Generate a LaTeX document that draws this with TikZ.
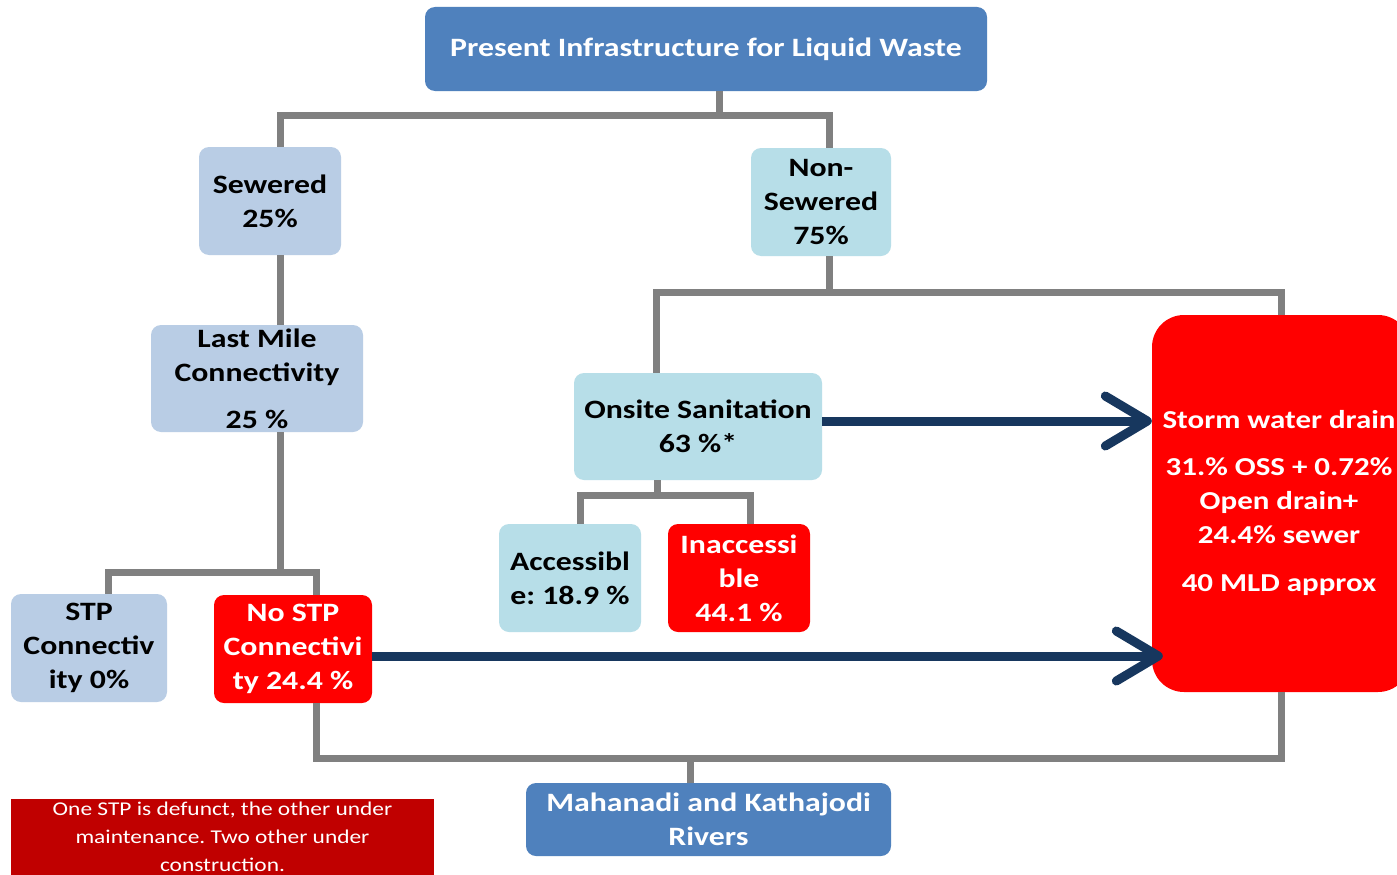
\documentclass[tikz,border=0pt]{standalone}
\usepackage{fontspec}
\setmainfont{Carlito}[FakeStretch=1.2]
\frenchspacing
\usetikzlibrary{arrows.meta}
\definecolor{hdblue}{HTML}{4F81BD}
\definecolor{lblue}{HTML}{B9CDE5}
\definecolor{lcyan}{HTML}{B7DEE8}
\definecolor{bred}{HTML}{FF0000}
\definecolor{dred}{HTML}{C00000}
\definecolor{conngray}{HTML}{808080}
\definecolor{navy}{HTML}{17375E}
\tikzset{
  box/.style={rectangle, rounded corners=10pt, inner sep=0pt, align=center,
    font=\frenchspacing\bfseries\fontsize{26.5}{34}\selectfont},
  bluebox/.style={box, fill=lblue, text=black},
  cyanbox/.style={box, fill=lcyan, text=black},
  redbox/.style={box, fill=bred, text=white},
  headbox/.style={box, fill=hdblue, text=white},
  conn/.style={draw=conngray, line width=7pt},
  arr/.style={draw=navy, line width=9pt,
    -{Straight Barb[length=42pt, width=50pt, line cap=round, round]}},
}
\begin{document}
\begin{tikzpicture}[x=1pt, y=-1pt]
\clip (0,0) rectangle (1397,875);
\fill[white] (0,0) rectangle (1397,875);

% nodes
\node[headbox, minimum width=562pt, minimum height=84pt] (top) at (706,49)
  {Present Infrastructure for Liquid Waste};
\node[bluebox, minimum width=142pt, minimum height=108pt] (sew) at (270,201)
  {Sewered\\25\%};
\node[cyanbox, minimum width=140pt, minimum height=108pt] (non) at (821,202)
  {Non-\\Sewered\\75\%};
\node[bluebox, minimum width=212pt, minimum height=107pt] (lm) at (257,378.5)
  {Last Mile\\Connectivity\\[13pt]25 \%};
\node[bluebox, minimum width=156pt, minimum height=108pt] (stp) at (89,648)
  {STP\\Connectiv\\ity 0\%};
\node[redbox, minimum width=158pt, minimum height=108pt] (nostp) at (293,649)
  {No STP\\Connectivi\\ty 24.4 \%};
\node[cyanbox, minimum width=248pt, minimum height=107pt] (os) at (698,426.5)
  {Onsite Sanitation\\63 \%*};
\node[cyanbox, minimum width=142pt, minimum height=108pt] (acc) at (570,578)
  {Accessibl\\e: 18.9 \%};
\node[redbox, minimum width=142pt, minimum height=108pt] (inacc) at (739,578)
  {Inaccessi\\ble\\44.1 \%};
\node[redbox, rounded corners=32pt, minimum width=258pt, minimum height=377pt] (storm) at (1281,503.5) {};
\node[text=white, align=center, inner sep=0pt,
  font=\frenchspacing\bfseries\fontsize{25.8}{34}\selectfont] (stormtxt) at (1279,503)
  {Storm water drain\\[13pt]31.\% OSS + 0.72\%\\Open drain+\\24.4\% sewer\\[14pt]40 MLD approx};
\node[headbox, minimum width=365pt, minimum height=73pt] (river) at (708.5,819.5)
  {Mahanadi and Kathajodi\\Rivers};
\node[rectangle, fill=dred, minimum width=423pt, minimum height=100pt, inner sep=0pt] (notebg) at (222.5,849) {};
\node[text=white, align=center, inner sep=0pt, font=\frenchspacing\fontsize{19.5}{28}\selectfont] (note) at (222.5,837)
  {One STP is defunct, the other under\\maintenance. Two other under\\construction.};

% connectors
\coordinate (j1) at (719,115);
\draw[conn] (top.south -| j1) -- (j1);
\draw[conn] ([xshift=10pt]sew.north) |- (j1) -| ([xshift=8pt]non.north);
\draw[conn] ([xshift=10pt]sew.south) -- ([xshift=23pt]lm.north);
\coordinate (j2) at (280,572);
\draw[conn] ([xshift=23pt]lm.south) -- (j2);
\draw[conn] ([xshift=19pt]stp.north) |- (j2) -| ([xshift=23pt]nostp.north);
\coordinate (j3) at (829,292);
\draw[conn] ([xshift=8pt]non.south) -- (j3);
\draw[conn] ([xshift=-42pt]os.north) |- (j3) -| (storm.north);
\coordinate (j4) at (657,495);
\draw[conn] ([xshift=-41pt]os.south) -- (j4);
\draw[conn] ([xshift=10pt]acc.north) |- (j4) -| ([xshift=11pt]inacc.north);
\coordinate (j5) at (690,758);
\draw[conn] ([xshift=23pt]nostp.south) |- (j5) -| (storm.south);
\draw[conn] (j5) -- (river.north -| j5);

% arrows
\draw[arr] ([yshift=5.5pt]os.east) -- ([yshift=5.5pt]os.east -| storm.west);
\draw[arr] ([yshift=-7pt]nostp.east) -- ([xshift=11pt,yshift=-7pt]nostp.east -| storm.west);
\end{tikzpicture}
\end{document}
